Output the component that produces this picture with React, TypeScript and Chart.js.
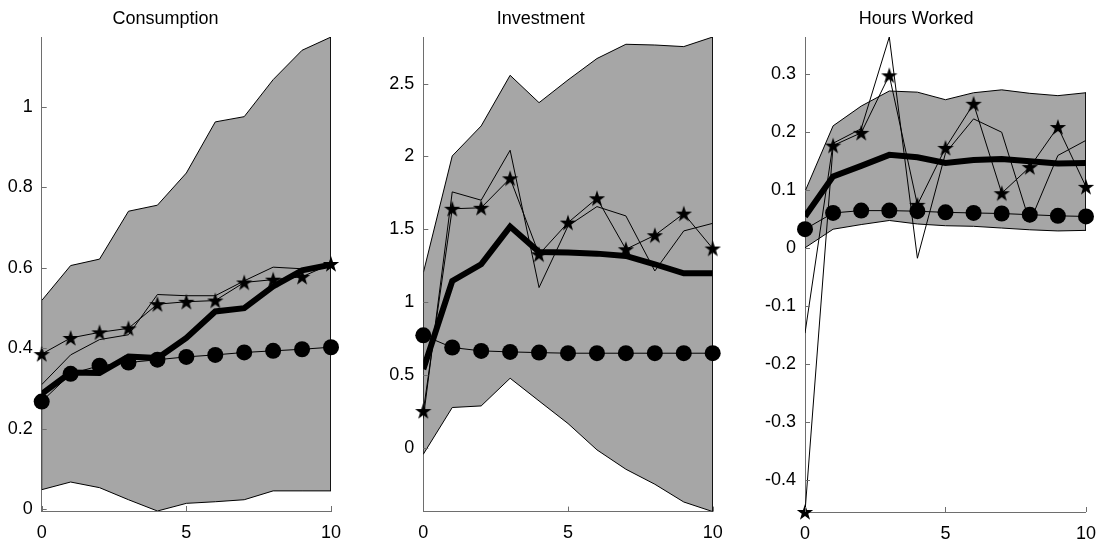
import React, { useEffect, useRef } from "react";
import { Chart, registerables } from "chart.js";

Chart.register(...registerables);

// Forecast horizon (quarters after the shock)
const steps = [0, 1, 2, 3, 4, 5, 6, 7, 8, 9, 10];
const xTicks = [0, 5, 10];

// Consumption
const consUpper = [0.519, 0.606, 0.622, 0.741, 0.756, 0.836, 0.963, 0.976, 1.068, 1.141, 1.174];
const consLower = [0.049, 0.068, 0.054, 0.024, -0.004, 0.015, 0.019, 0.024, 0.046, 0.046, 0.046];
const consMean = [0.287, 0.34, 0.339, 0.38, 0.376, 0.426, 0.492, 0.5, 0.554, 0.594, 0.608];
const consThin = [0.31, 0.384, 0.422, 0.434, 0.534, 0.531, 0.531, 0.568, 0.602, 0.598, 0.61];
const consStar = [0.386, 0.426, 0.44, 0.45, 0.51, 0.516, 0.519, 0.564, 0.571, 0.578, 0.61];
const consCircle = [0.268, 0.337, 0.357, 0.365, 0.372, 0.379, 0.384, 0.39, 0.394, 0.398, 0.403];
const consTicks = [0, 0.2, 0.4, 0.6, 0.8, 1];
const consTickLabels = ["0", "0.2", "0.4", "0.6", "0.8", "1"];

// Investment
const invUpper = [1.2, 2.003, 2.209, 2.557, 2.369, 2.525, 2.672, 2.77, 2.765, 2.754, 2.82];
const invLower = [-0.046, 0.275, 0.286, 0.476, 0.32, 0.165, -0.016, -0.149, -0.252, -0.374, -0.44];
const invMean = [0.538, 1.144, 1.259, 1.518, 1.343, 1.339, 1.332, 1.316, 1.259, 1.197, 1.197];
const invThin = [0.2, 1.756, 1.699, 2.042, 1.099, 1.522, 1.655, 1.591, 1.213, 1.488, 1.54];
const invStar = [0.251, 1.64, 1.647, 1.849, 1.327, 1.545, 1.712, 1.362, 1.458, 1.607, 1.367];
const invCircle = [0.771, 0.687, 0.664, 0.657, 0.652, 0.648, 0.648, 0.648, 0.648, 0.648, 0.648];
const invTicks = [0, 0.5, 1, 1.5, 2, 2.5];
const invTickLabels = ["0", "0.5", "1", "1.5", "2", "2.5"];

// Hours worked
const hrsUpper = [0.097, 0.21, 0.244, 0.27, 0.268, 0.255, 0.267, 0.272, 0.266, 0.262, 0.267];
const hrsLower = [0.0, 0.032, 0.04, 0.047, 0.041, 0.038, 0.037, 0.034, 0.031, 0.029, 0.03];
const hrsMean = [0.054, 0.123, 0.141, 0.16, 0.156, 0.146, 0.151, 0.153, 0.149, 0.145, 0.146];
const hrsThin = [-0.147, 0.18, 0.205, 0.363, -0.018, 0.163, 0.222, 0.199, 0.044, 0.159, 0.185];
const hrsStar = [-0.455, 0.176, 0.198, 0.297, 0.074, 0.172, 0.248, 0.094, 0.139, 0.208, 0.105];
const hrsCircle = [0.032, 0.06, 0.064, 0.064, 0.063, 0.061, 0.06, 0.059, 0.057, 0.055, 0.054];
const hrsTicks = [-0.4, -0.3, -0.2, -0.1, 0, 0.1, 0.2, 0.3];
const hrsTickLabels = ["-0.4", "-0.3", "-0.2", "-0.1", "0", "0.1", "0.2", "0.3"];

const FONT = "'Liberation Sans', Arial, Helvetica, sans-serif";
const AXIS_COLOR = "#6e6e6e";
const BAND_COLOR = "#a6a6a6";

type Series = {
  title: string;
  upper: number[];
  lower: number[];
  mean: number[];
  thin: number[];
  star: number[];
  circle: number[];
  ticks: number[];
  tickLabels: string[];
};

const series: Series[] = [
  { title: "Consumption", upper: consUpper, lower: consLower, mean: consMean, thin: consThin, star: consStar, circle: consCircle, ticks: consTicks, tickLabels: consTickLabels },
  { title: "Investment", upper: invUpper, lower: invLower, mean: invMean, thin: invThin, star: invStar, circle: invCircle, ticks: invTicks, tickLabels: invTickLabels },
  { title: "Hours Worked", upper: hrsUpper, lower: hrsLower, mean: hrsMean, thin: hrsThin, star: hrsStar, circle: hrsCircle, ticks: hrsTicks, tickLabels: hrsTickLabels },
];

// Panel placement on the page
const frames = [
  { left: 0, width: 369, axisWidth: 41.7, padRight: 38, axisHeight: 33 },
  { left: 369, width: 369, axisWidth: 54.3, padRight: 25.3, axisHeight: 32.4 },
  { left: 738, width: 369, axisWidth: 67, padRight: 12.7, axisHeight: 32 },
];

// Filled five-pointed star used as a point marker
function makeStar(): HTMLCanvasElement {
  const c = document.createElement("canvas");
  c.width = 20;
  c.height = 20;
  const g = c.getContext("2d")!;
  g.beginPath();
  for (let k = 0; k < 10; k++) {
    const r = k % 2 === 0 ? 8.6 : 3.4;
    const a = -Math.PI / 2 + (k * Math.PI) / 5;
    const px = 10 + r * Math.cos(a);
    const py = 10.7 + r * Math.sin(a);
    if (k === 0) g.moveTo(px, py);
    else g.lineTo(px, py);
  }
  g.closePath();
  g.fillStyle = "#000";
  g.fill();
  return c;
}

// Short inward tick marks on the left and bottom axes
const inwardTicks = {
  id: "inwardTicks",
  afterDraw(chart: any) {
    const { ctx, chartArea, scales } = chart;
    ctx.save();
    ctx.strokeStyle = AXIS_COLOR;
    ctx.lineWidth = 1;
    ctx.beginPath();
    scales.y.ticks.forEach((t: any) => {
      const y = Math.round(scales.y.getPixelForValue(t.value)) + 0.5;
      ctx.moveTo(chartArea.left, y);
      ctx.lineTo(chartArea.left + 5, y);
    });
    scales.x.ticks.forEach((t: any) => {
      const x = Math.round(scales.x.getPixelForValue(t.value)) + 0.5;
      ctx.moveTo(x, chartArea.bottom);
      ctx.lineTo(x, chartArea.bottom - 5);
    });
    ctx.stroke();
    ctx.restore();
  },
};

function Panel({ s, f }: { s: Series; f: (typeof frames)[number] }) {
  const ref = useRef<HTMLCanvasElement>(null);

  useEffect(() => {
    const canvas = ref.current;
    if (!canvas) return;
    const starImg = makeStar();
    const pts = (ys: number[]) => steps.map((x, i) => ({ x, y: ys[i] }));
    // closed outline of the shaded band: upper edge out, lower edge back
    const outline = [
      ...steps.map((x, i) => ({ x, y: s.upper[i] })),
      ...steps
        .slice()
        .reverse()
        .map((x) => ({ x, y: s.lower[x] })),
      { x: steps[0], y: s.upper[0] },
    ];
    const all = [...s.upper, ...s.lower, ...s.mean, ...s.thin, ...s.star, ...s.circle];
    const yMin = Math.min(...all);
    const yMax = Math.max(...all);

    const chart = new Chart(canvas, {
      type: "line",
      data: {
        datasets: [
          {
            data: pts(s.circle),
            borderColor: "#000",
            borderWidth: 1,
            pointRadius: 8,
            pointBackgroundColor: "#000",
            pointBorderWidth: 0,
            clip: false,
            order: 0,
          },
          {
            data: pts(s.star),
            borderColor: "#000",
            borderWidth: 1,
            pointStyle: starImg,
            pointRadius: 8,
            clip: false,
            order: 1,
          },
          {
            data: pts(s.thin),
            borderColor: "#000",
            borderWidth: 1,
            pointRadius: 0,
            order: 2,
          },
          {
            data: pts(s.mean),
            borderColor: "#000",
            borderWidth: 6,
            pointRadius: 0,
            order: 3,
          },
          {
            data: outline,
            borderColor: "#000",
            borderWidth: 1,
            pointRadius: 0,
            fill: false,
            order: 4,
          },
          {
            data: pts(s.lower),
            borderColor: "transparent",
            borderWidth: 0,
            pointRadius: 0,
            fill: false,
            order: 5,
          },
          {
            data: pts(s.upper),
            borderColor: "transparent",
            borderWidth: 0,
            pointRadius: 0,
            backgroundColor: BAND_COLOR,
            fill: 5,
            order: 6,
          },
        ] as any,
      },
      options: {
        responsive: false,
        animation: false,
        devicePixelRatio: 1,
        events: [],
        layout: { padding: { left: 0, right: f.padRight, top: 0, bottom: 0 } },
        plugins: {
          legend: { display: false },
          tooltip: { enabled: false },
          title: {
            display: true,
            text: s.title,
            color: "#000",
            font: { family: FONT, size: 18, weight: "normal" },
            padding: { top: 8, bottom: 7.4 },
          },
        },
        scales: {
          x: {
            type: "linear",
            min: 0,
            max: 10,
            z: 1,
            grid: { display: true, drawOnChartArea: false, drawTicks: false },
            border: { display: true, color: AXIS_COLOR, width: 1 },
            ticks: {
              color: "#000",
              font: { family: FONT, size: 18 },
              padding: 11,
              maxRotation: 0,
              autoSkip: false,
              callback: (_v: any, i: number) => String(xTicks[i]),
            },
            afterBuildTicks: (sc: any) => {
              sc.ticks = xTicks.map((v) => ({ value: v }));
            },
            afterFit: (sc: any) => {
              sc.height = f.axisHeight;
            },
          },
          y: {
            type: "linear",
            min: yMin,
            max: yMax,
            z: 1,
            grid: { display: true, drawOnChartArea: false, drawTicks: false },
            border: { display: true, color: AXIS_COLOR, width: 1 },
            ticks: {
              color: "#000",
              font: { family: FONT, size: 18 },
              padding: 9,
              autoSkip: false,
              callback: (_v: any, i: number) => s.tickLabels[i],
            },
            afterBuildTicks: (sc: any) => {
              sc.ticks = s.ticks.map((v) => ({ value: v }));
            },
            afterFit: (sc: any) => {
              sc.width = f.axisWidth;
            },
          },
        },
      } as any,
      plugins: [inwardTicks],
    });

    return () => chart.destroy();
  }, [s, f]);

  return (
    <canvas
      ref={ref}
      width={f.width}
      height={544}
      style={{ position: "absolute", left: f.left, top: 0, width: f.width, height: 544 }}
    />
  );
}

export default function App() {
  return (
    <div style={{ position: "absolute", left: 0, top: 0, width: 1107, height: 544, background: "#fff" }}>
      {series.map((s, i) => (
        <Panel key={s.title} s={s} f={frames[i]} />
      ))}
    </div>
  );
}
